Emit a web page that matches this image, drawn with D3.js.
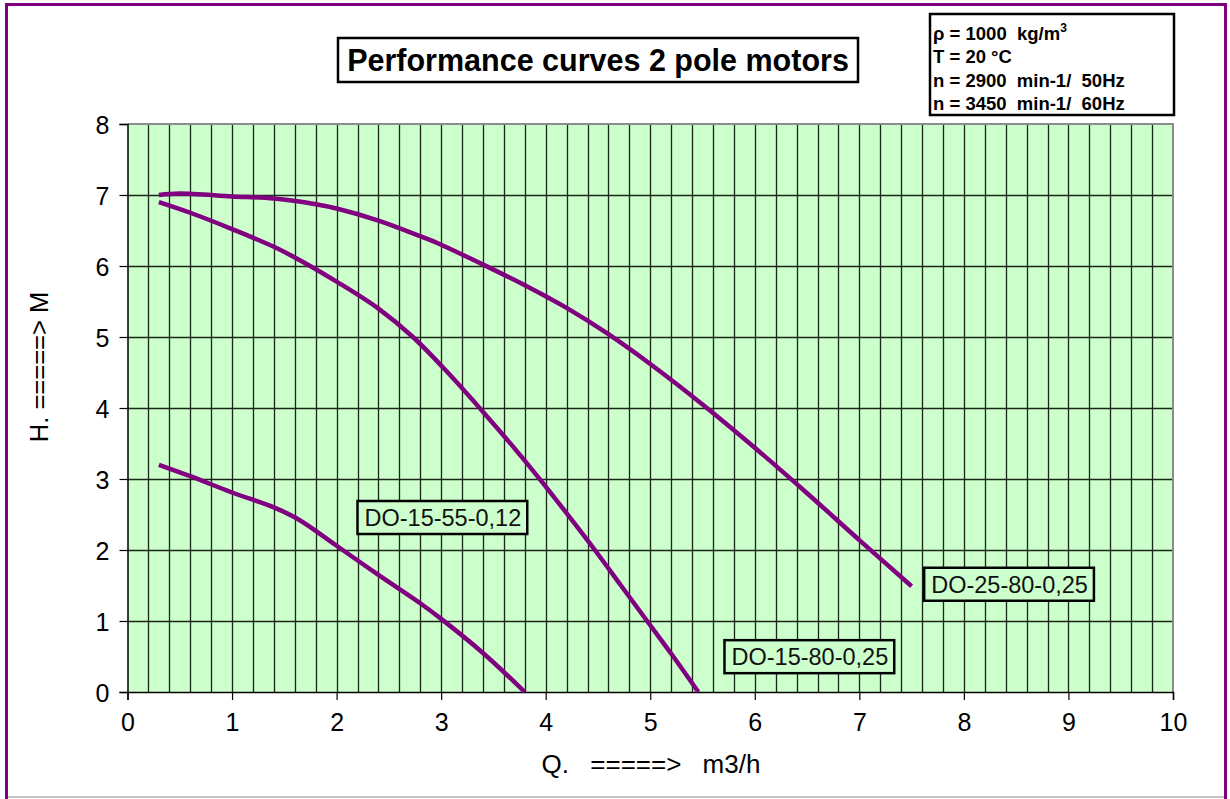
<!DOCTYPE html>
<html><head><meta charset="utf-8">
<script src="https://cdn.jsdelivr.net/npm/d3@7"></script>
<style>
html,body{margin:0;padding:0;background:#fff;}
svg{display:block;font-family:"Liberation Sans",Arial,sans-serif;}
</style></head>
<body>
<svg id="chart" width="1230" height="799"></svg>
<script>
// ---- data ----
const curveNames = ["DO-25-80-0,25", "DO-15-80-0,25", "DO-15-55-0,12"];
const q_DO_25_80 = [0.3, 0.5, 1.0, 1.4, 1.8, 2.0, 2.4, 2.8, 3.0, 3.4, 3.8, 4.2, 4.6, 5.0, 5.5, 6.0, 6.5, 7.0, 7.5];
const h_DO_25_80 = [7.0, 7.02, 6.98, 6.95, 6.87, 6.81, 6.64, 6.42, 6.30, 6.02, 5.73, 5.41, 5.04, 4.62, 4.05, 3.44, 2.8, 2.14, 1.49];
const q_DO_15_80 = [0.3, 0.6, 1.0, 1.4, 1.7, 2.0, 2.4, 2.73, 3.05, 3.38, 3.68, 3.97, 4.22, 4.47, 4.72, 4.97, 5.22, 5.46];
const h_DO_15_80 = [6.9, 6.75, 6.52, 6.27, 6.04, 5.78, 5.4, 5.0, 4.52, 3.98, 3.47, 2.95, 2.48, 2.0, 1.5, 1.0, 0.5, 0.0];
const q_DO_15_55 = [0.3, 0.6, 1.0, 1.4, 1.6, 1.8, 2.0, 2.4, 2.8, 3.0, 3.4, 3.8];
const h_DO_15_55 = [3.2, 3.04, 2.81, 2.6, 2.46, 2.27, 2.06, 1.65, 1.25, 1.03, 0.55, 0.0];
const xTicks = [0, 1, 2, 3, 4, 5, 6, 7, 8, 9, 10];
const yTicks = [0, 1, 2, 3, 4, 5, 6, 7, 8];
const titleText = "Performance curves 2 pole motors";
const infoLines = ["ρ = 1000  kg/m", "T = 20 °C", "n = 2900  min-1/  50Hz", "n = 3450  min-1/  60Hz"];
const xTitle = "Q. =====> m3/h";
const yTitle = "H. =====> M";

// ---- layout ----
const svg = d3.select("#chart");
const x = d3.scaleLinear().domain([0, 10]).range([127.5, 1173]);
const y = d3.scaleLinear().domain([0, 8]).range([692, 124]);
const purple = "#800080";

// outer frame
svg.append("line").attr("x1", 6).attr("x2", 1226).attr("y1", 797).attr("y2", 797).attr("stroke", "#b0b0b0").attr("stroke-width", 1.5);
svg.append("path").attr("d", "M6.5,799 V4.5 H1225.5 V799").attr("fill", "none").attr("stroke", purple).attr("stroke-width", 3);

// plot background
svg.append("rect").attr("x", x(0)).attr("y", y(8)).attr("width", x(10) - x(0)).attr("height", y(0) - y(8)).attr("fill", "#CCFFCC");

// grid
const vGrid = d3.range(1, 50).map(i => i / 5);
svg.append("g").selectAll("line").data(vGrid).join("line")
  .attr("x1", d => Math.round(x(d)) + 0.5).attr("x2", d => Math.round(x(d)) + 0.5)
  .attr("y1", y(8)).attr("y2", y(0))
  .attr("stroke", "#1a261a").attr("stroke-width", 1.3);
svg.append("g").selectAll("line").data(d3.range(1, 8)).join("line")
  .attr("x1", x(0)).attr("x2", x(10))
  .attr("y1", d => Math.round(y(d)) + 0.5).attr("y2", d => Math.round(y(d)) + 0.5)
  .attr("stroke", "#1a261a").attr("stroke-width", 1.3);
// top / right border gray
svg.append("path").attr("d", `M${x(0)},${y(8)} H${x(10)} V${y(0)}`).attr("fill", "none").attr("stroke", "#8c8c8c").attr("stroke-width", 2);

// axes
const xAxis = d3.axisBottom(x).tickValues(xTicks).tickFormat(d3.format("d")).tickSize(8).tickPadding(13);
const gx = svg.append("g").attr("transform", `translate(0,${y(0)})`).call(xAxis);
const yAxis = d3.axisLeft(y).tickValues(yTicks).tickFormat(d3.format("d")).tickSize(8).tickPadding(10);
const gy = svg.append("g").attr("transform", `translate(${x(0)},0)`).call(yAxis);
[gx, gy].forEach(g => {
  g.select(".domain").attr("stroke", "#000").attr("stroke-width", 1.5);
  g.selectAll(".tick line").attr("stroke", "#000").attr("stroke-width", 1.2);
  g.selectAll(".tick text").attr("font-family", "Liberation Sans, Arial, sans-serif").attr("font-size", 25).attr("fill", "#000");
});
gy.selectAll(".tick text").attr("dy", "0.36em");

// axis titles
svg.append("text").attr("x", 651).attr("y", 773).attr("text-anchor", "middle").attr("font-size", 26)
  .attr("word-spacing", 14).text(xTitle);
svg.append("text").attr("transform", "translate(48,367) rotate(-90)").attr("text-anchor", "middle").attr("font-size", 25.5).text(yTitle);

// curves
const line = d3.line().x(d => x(d[0])).y(d => y(d[1])).curve(d3.curveCatmullRom.alpha(0.5));
const series = [
  d3.zip(q_DO_25_80, h_DO_25_80),
  d3.zip(q_DO_15_80, h_DO_15_80),
  d3.zip(q_DO_15_55, h_DO_15_55)
];
svg.append("g").selectAll("path").data(series).join("path")
  .attr("d", line).attr("fill", "none").attr("stroke", purple).attr("stroke-width", 4.5).attr("stroke-linecap", "butt");

// curve labels (box left / top in data units)
const labelAnchors = [[7.62, 1.75], [5.71, 0.73], [2.2, 2.69]];
curveNames.forEach((name, i) => {
  const g = svg.append("g").attr("transform", `translate(${x(labelAnchors[i][0])},${y(labelAnchors[i][1])})`);
  const r = g.append("rect").attr("fill", "#CCFFCC").attr("stroke", "#000").attr("stroke-width", 2.5);
  const t = g.append("text").attr("x", 7).attr("y", 25).attr("font-size", 23.5).attr("fill", "#111").text(name);
  const bb = t.node().getBBox();
  r.attr("x", 0).attr("y", 0).attr("width", bb.width + 13).attr("height", 33);
});

// title box
const tg = svg.append("g");
const tr = tg.append("rect").attr("fill", "#fff").attr("stroke", "#000").attr("stroke-width", 2.5);
tg.append("text").attr("x", 598).attr("y", 71).attr("text-anchor", "middle").attr("font-size", 30.5).attr("font-weight", "bold").text(titleText);
tr.attr("x", 338).attr("y", 38).attr("width", 520).attr("height", 44);

// info box
svg.append("rect").attr("x", 930).attr("y", 14).attr("width", 244).attr("height", 101).attr("fill", "#fff").attr("stroke", "#000").attr("stroke-width", 2.5);
const info = svg.append("g");
infoLines.forEach((s, i) => {
  const t = info.append("text").attr("x", 933).attr("y", 40 + i * 23.3).attr("font-size", 18.5).attr("font-weight", "bold").attr("xml:space", "preserve").style("white-space", "pre").text(s);
  if (i === 0) t.append("tspan").attr("font-size", 12).attr("dy", -8).text("3");
});
</script>
</body></html>
